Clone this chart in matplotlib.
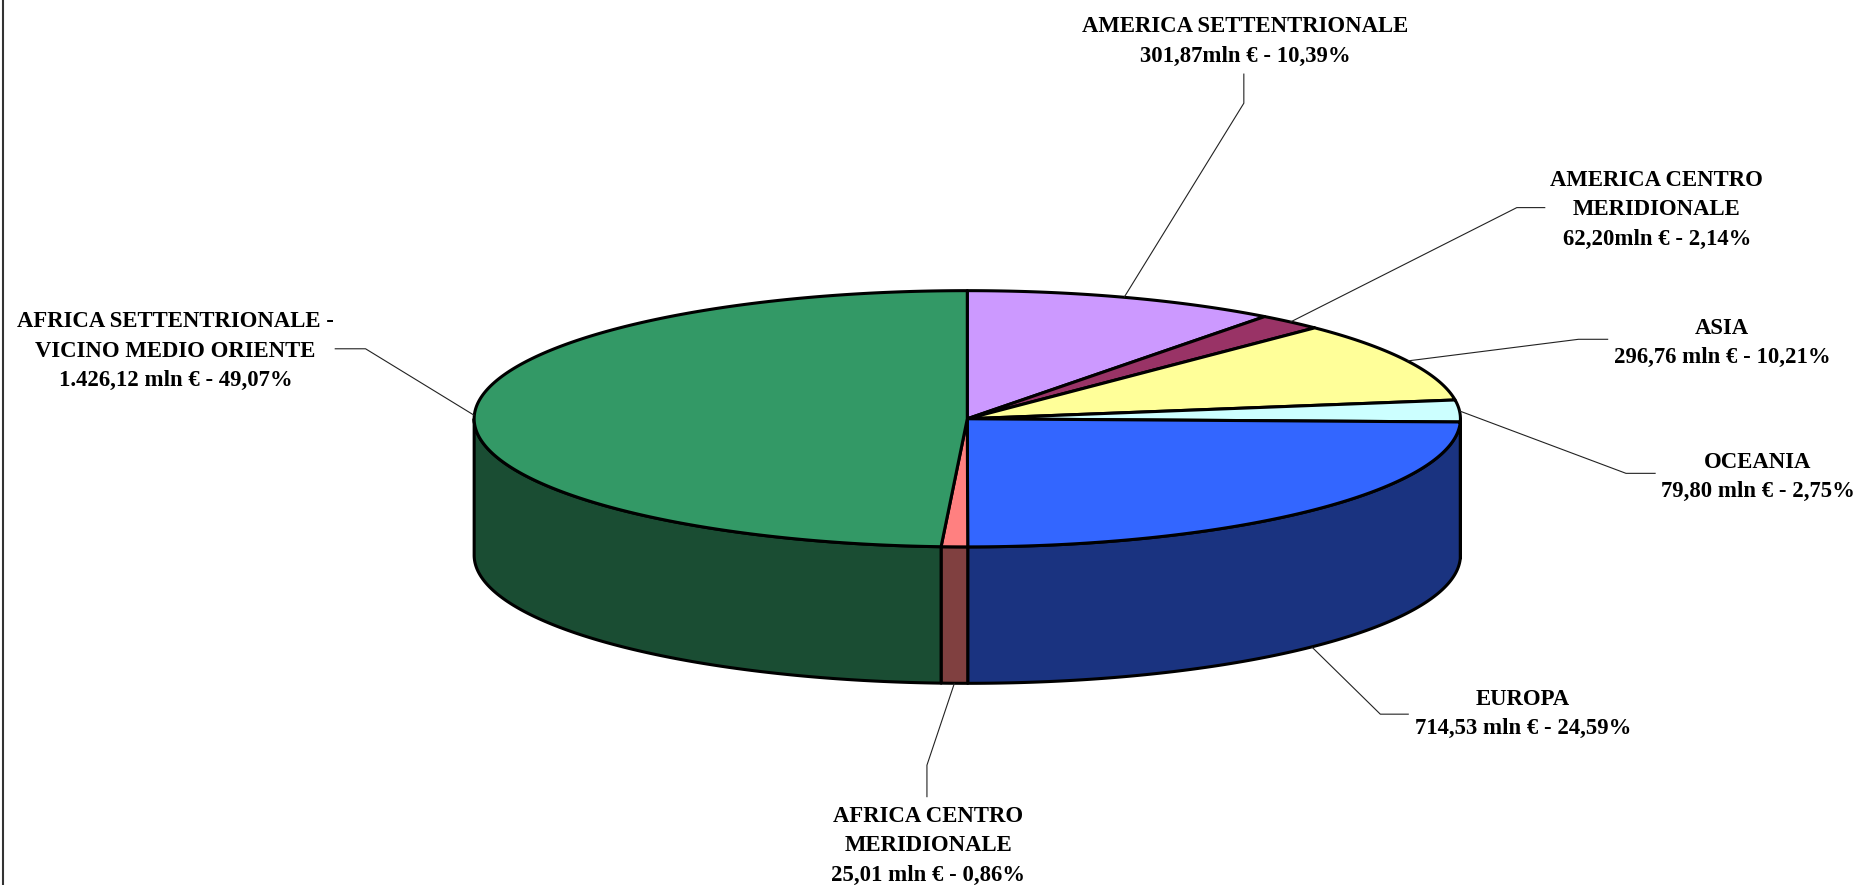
import numpy as np
import matplotlib
matplotlib.use('Agg')
import matplotlib.pyplot as plt
from matplotlib.patches import Polygon

# values in mln euro, clockwise from 12 o'clock
names = ['AMERICA SETTENTRIONALE', 'AMERICA CENTRO\nMERIDIONALE', 'ASIA', 'OCEANIA',
         'EUROPA', 'AFRICA CENTRO\nMERIDIONALE', 'AFRICA SETTENTRIONALE -\nVICINO MEDIO ORIENTE']
values = [301.87, 62.20, 296.76, 79.80, 714.53, 25.01, 1426.12]
amounts = ['301,87mln € - 10,39%', '62,20mln € - 2,14%', '296,76 mln € - 10,21%',
           '79,80 mln € - 2,75%', '714,53 mln € - 24,59%', '25,01 mln € - 0,86%',
           '1.426,12 mln € - 49,07%']
top_colors = ['#CC99FF', '#993366', '#FFFF99', '#CCFFFF', '#3366FF', '#FF8080', '#339966']
side_colors = ['#664D80', '#4D1A33', '#80804D', '#668080', '#1A3380', '#804040', '#1A4D33']

# label centre and leader elbow/end, in the 1568 wide layout below
label_pos = [(1049, 35), (1396, 177), (1451, 289), (1481, 402), (1283, 602), (782, 713), (148, 296)]
elbows = [(1048, 87), (1278, 175), (1330, 286), (1370, 399), (1163, 602), (781, 645), (308, 294)]
ends = [(1048, 62), (1302, 175), (1355, 286), (1395, 399), (1187, 602), (781, 672), (282, 294)]

cx, cy = 815, 353
a, b = 415.5, 108
depth = 115
LW = 2.2
start_angle = np.radians(-0.3)

plt.rcParams['font.family'] = ['Liberation Serif', 'DejaVu Serif']
fig = plt.figure(figsize=(18.61, 8.85), dpi=100)
ax = fig.add_axes([0, 0, 1, 1])
ax.set_xlim(0, 1568)
ax.set_ylim(746, 0)
ax.axis('off')

def rim(t0, t1, down=0):
    t = np.linspace(t0, t1, max(int(abs(t1 - t0) * 120), 2))
    return np.column_stack([cx + a * np.sin(t), cy - b * np.cos(t) + down])

frac = np.array(values) / sum(values)
edges = np.concatenate([[0], np.cumsum(frac)]) * 2 * np.pi + start_angle
# first boundary stays straight up
edges[0] = 0
edges[-1] = 2 * np.pi

# side walls, only the front half shows
for i in range(len(values)):
    t0, t1 = max(edges[i], np.pi / 2), min(edges[i + 1], 3 * np.pi / 2)
    if t1 > t0:
        pts = np.vstack([rim(t0, t1), rim(t1, t0, depth)])
        ax.add_patch(Polygon(pts, closed=True, fc=side_colors[i], ec='black', lw=LW, joinstyle='round'))

# top slices
for i in range(len(values)):
    pts = np.vstack([[cx, cy], rim(edges[i], edges[i + 1])])
    ax.add_patch(Polygon(pts, closed=True, fc=top_colors[i], ec='black', lw=LW, joinstyle='round'))

# leaders start on the rim at the middle of each slice
for i in range(len(values)):
    mid = (edges[i] + edges[i + 1]) / 2
    start = rim(mid, mid + 1e-6, depth if np.pi * 0.6 < mid < np.pi * 1.4 else 0)[0]
    ax.plot([start[0], elbows[i][0], ends[i][0]], [start[1], elbows[i][1], ends[i][1]],
            color='#222222', lw=0.8, solid_capstyle='butt', zorder=3)
    ax.text(label_pos[i][0], label_pos[i][1], names[i] + '\n' + amounts[i], ha='center', va='center',
            fontsize=16.4, fontweight='bold', linespacing=1.52, color='black')

# left border of the picture
ax.plot([2.8, 2.8], [0, 746], color='#333333', lw=1.5)

fig.savefig('out.png', dpi=100)
